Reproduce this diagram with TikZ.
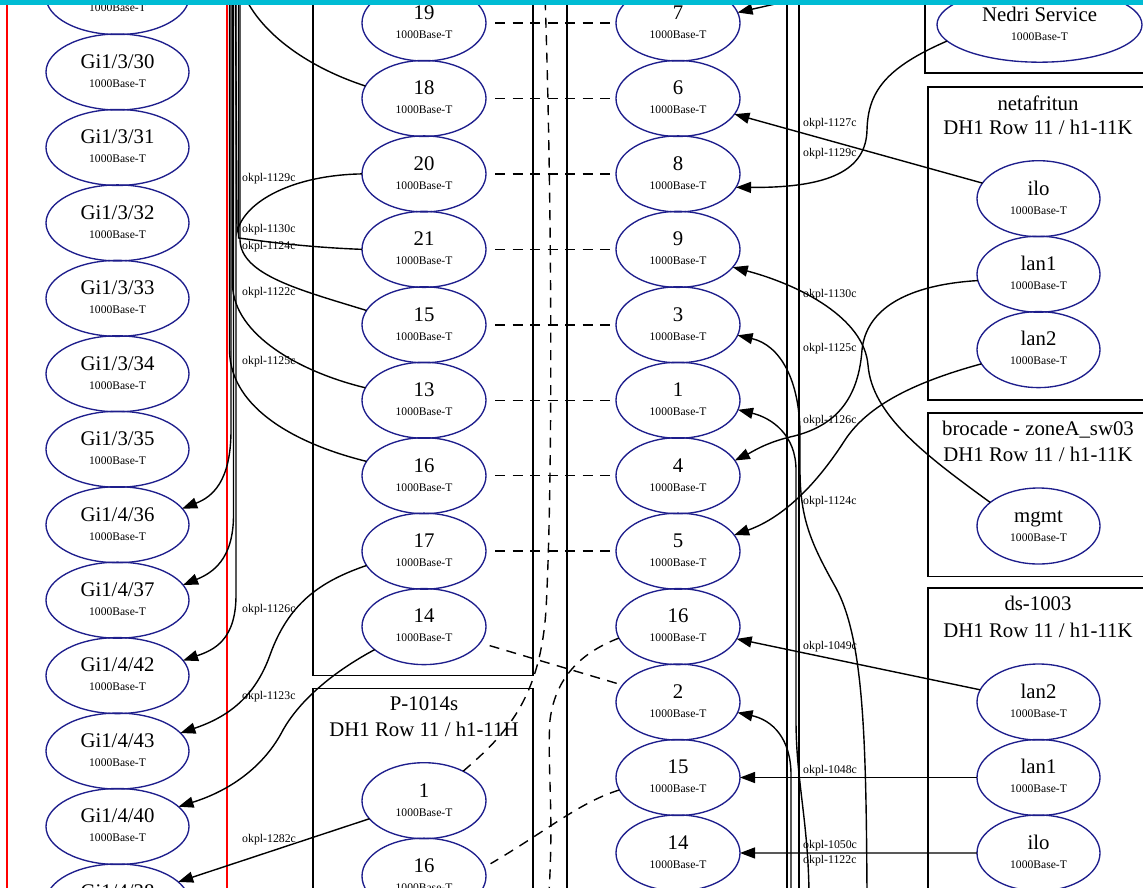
\documentclass[tikz,border=0pt]{standalone}
\usepackage{fontspec}
\setmainfont{Liberation Serif}
\usetikzlibrary{shapes.geometric,arrows.meta}
\definecolor{portc}{RGB}{30,30,140}
\definecolor{barc}{RGB}{0,188,212}
\newcommand\ttlfont{\fontsize{20.8}{24}\selectfont}
\newcommand\subfont{\fontsize{11.6}{13}\selectfont}
\newcommand\lblfont{\fontsize{11.8}{13}\selectfont}
\tikzset{
 ell/.style={ellipse, draw=portc, line width=1.35pt, inner sep=0pt, outer sep=0pt, minimum height=76pt},
 ttl/.style={font=\ttlfont, inner sep=0pt, anchor=base},
 subt/.style={font=\subfont, inner sep=0pt, anchor=base},
 lbl/.style={font=\lblfont, inner sep=0pt, anchor=west},
 arrln/.style={draw=black, line width=1.4pt, -{Triangle[length=15pt,width=11pt]}},
 ln/.style={draw=black, line width=1.4pt},
 dln/.style={draw=black, line width=1.4pt, dash pattern=on 10pt off 7.5pt},
 clus/.style={draw=black, line width=1.35pt},
 rclus/.style={draw=red, line width=1.35pt},
}
\newcommand\pnode[5]{%
 \node[ell, minimum width=#4pt] (#1) at (#2,#3) {};
 \node[ttl] (#1-t) at ([yshift=3.7pt]#1.center) {#5};
 \node[subt] (#1-s) at ([yshift=-15.3pt]#1.center) {1000Base-T};
}
\begin{document}
\begin{tikzpicture}[x=1pt,y=-1pt]
\useasboundingbox (0,0) rectangle (1143,887);
\clip (0,0) rectangle (1143,887);
% clusters
\draw[rclus] (7,-20) rectangle (227,910);
\draw[clus] (313,-20) rectangle (533,675.5);
\draw[clus] (313,688.3) rectangle (533,910);
\draw[clus] (567,-20) rectangle (787,910);
\draw[clus] (799,-20) -- (799,910);
\draw[clus] (925,-20) rectangle (1160,73);
\draw[clus] (928,87) rectangle (1160,400);
\draw[clus] (928,413) rectangle (1160,576.5);
\draw[clus] (928,588) rectangle (1160,910);
% cluster titles
\node[ttl] (c1a) at (424,710) {P-1014s};
\node[ttl] (c1b) at (424,736) {DH1 Row 11 / h1-11H};
\node[ttl] (c2a) at (1038,110) {netafritun};
\node[ttl] (c2b) at (1038,134) {DH1 Row 11 / h1-11K};
\node[ttl] (c3a) at (1038,435) {brocade - zoneA\_sw03};
\node[ttl] (c3b) at (1038,461) {DH1 Row 11 / h1-11K};
\node[ttl] (c4a) at (1038,610) {ds-1003};
\node[ttl] (c4b) at (1038,637) {DH1 Row 11 / h1-11K};
% left column
\node[ell, minimum width=143pt] (g29) at (117.5,-3.45) {};
\node[subt] (g29-s) at ([yshift=-15.3pt]g29.center) {1000Base-T};
\pnode{g30}{117.5}{72}{143}{Gi1/3/30}
\pnode{g31}{117.5}{147.45}{143}{Gi1/3/31}
\pnode{g32}{117.5}{222.9}{143}{Gi1/3/32}
\pnode{g33}{117.5}{298.35}{143}{Gi1/3/33}
\pnode{g34}{117.5}{373.8}{143}{Gi1/3/34}
\pnode{g35}{117.5}{449.25}{143}{Gi1/3/35}
\pnode{g36}{117.5}{524.7}{143}{Gi1/4/36}
\pnode{g37}{117.5}{600.15}{143}{Gi1/4/37}
\pnode{g42}{117.5}{675.6}{143}{Gi1/4/42}
\pnode{g43}{117.5}{751.05}{143}{Gi1/4/43}
\pnode{g40}{117.5}{826.5}{143}{Gi1/4/40}
\node[ell, minimum width=143pt] (g38) at (117.5,901.95) {};
\node[ttl] (g38-t) at ([yshift=3.7pt]g38.center) {Gi1/4/38};
% middle column
\pnode{m19}{424}{23}{124}{19}
\pnode{m18}{424}{98.45}{124}{18}
\pnode{m20}{424}{173.9}{124}{20}
\pnode{m21}{424}{249.35}{124}{21}
\pnode{m15}{424}{324.8}{124}{15}
\pnode{m13}{424}{400.25}{124}{13}
\pnode{m16}{424}{475.7}{124}{16}
\pnode{m17}{424}{551.15}{124}{17}
\pnode{m14}{424}{626.6}{124}{14}
\pnode{p1}{424}{800.7}{124}{1}
\pnode{p16}{424}{876.15}{124}{16}
% right column
\pnode{r7}{678}{23}{124}{7}
\pnode{r6}{678}{98.45}{124}{6}
\pnode{r8}{678}{173.9}{124}{8}
\pnode{r9}{678}{249.35}{124}{9}
\pnode{r3}{678}{324.8}{124}{3}
\pnode{r1}{678}{400.25}{124}{1}
\pnode{r4}{678}{475.7}{124}{4}
\pnode{r5}{678}{551.15}{124}{5}
\pnode{r16}{678}{626.6}{124}{16}
\pnode{r2}{678}{702.05}{124}{2}
\pnode{r15}{678}{777.5}{124}{15}
\pnode{r14}{678}{852.95}{124}{14}
% right clusters
\node[ell, minimum width=205pt, minimum height=75pt] (nedri) at (1039.5,24.7) {};
\node[ttl] (nedri-t) at ([yshift=3.7pt]nedri.center) {Nedri Service};
\node[subt] (nedri-s) at ([yshift=-15.3pt]nedri.center) {1000Base-T};
\pnode{nilo}{1038.5}{198.7}{123}{ilo}
\pnode{nlan1}{1038.5}{274.2}{123}{lan1}
\pnode{nlan2}{1038.5}{349.6}{123}{lan2}
\pnode{mgmt}{1038.5}{526}{123}{mgmt}
\pnode{dlan2}{1038.5}{702}{123}{lan2}
\pnode{dlan1}{1038.5}{777.5}{123}{lan1}
\pnode{dilo}{1038.5}{853}{123}{ilo}
% free ends
\coordinate (ta) at (231,-5);
\coordinate (tb) at (233.5,-5);
\coordinate (tc) at (236,-5);
\coordinate (u20) at (235.5,-5);
\coordinate (u21) at (238.5,-5);
\coordinate (u15) at (240,-5);
\coordinate (u13) at (232.5,-5);
\coordinate (u16) at (229.5,-5);
\coordinate (u18) at (244,-5);
\coordinate (t7) at (806,-3);
\coordinate (b1) at (809,892);
\coordinate (b2) at (791,892);
\coordinate (b3) at (867,892);
\coordinate (d1) at (545,-5);
\coordinate (d2) at (549,892);
% left bundle
\draw[arrln] (ta) -- (231,430) .. controls (231,482) and (212,497) .. (g36.14);
\draw[arrln] (tb) -- (233.5,515) .. controls (233.5,560) and (212,573) .. (g37.13);
\draw[arrln] (tc) -- (236,595) .. controls (236,640) and (214,650) .. (g42.13);
\draw[ln] (m20.west) .. controls (295,175) and (245,200) .. (237,232) -- (u20);
\draw[ln] (m21.west) .. controls (300,247) and (255,240) .. (238.5,238) -- (u21);
\draw[ln] (m15.166) .. controls (300,290) and (241,275) .. (240,240) -- (u15);
\draw[ln] (m13.168) .. controls (300,372) and (234,335) .. (232.5,285) -- (u13);
\draw[ln] (m16.166) .. controls (300,445) and (230,410) .. (229.5,350) -- (u16);
\draw[ln] (m18.168) .. controls (310,68) and (262,35) .. (u18);
\draw[arrln] (m17.194) .. controls (318,582) and (288,605) .. (270,655) .. controls (255,697) and (228,717) .. (g43.16);
\draw[arrln] (m14.205) .. controls (333,672) and (300,700) .. (283,730) .. controls (265,765) and (232,790) .. (g40.18);
\draw[arrln] (p1) -- (g38);
% right edges
\draw[arrln] (t7) -- (r7.10);
\draw[arrln] (nilo) -- (r6);
\draw[arrln] (nedri.190) .. controls (885,68) and (868,92) .. (867,130) .. controls (866,170) and (830,188) .. (r8.-13);
\draw[arrln] (mgmt.154) .. controls (925,455) and (872,415) .. (868,365) .. controls (864,318) and (800,285) .. (r9.-18);
\draw[arrln] (nlan1.186) .. controls (905,285) and (866,310) .. (862,350) .. controls (858,405) and (830,428) .. (790,437) .. controls (765,443) and (752,452) .. (r4.15);
\draw[arrln] (nlan2.194) .. controls (915,382) and (868,405) .. (845,440) .. controls (818,482) and (785,517) .. (r5.16);
\draw[arrln] (b3) .. controls (866,740) and (864,640) .. (836,588) .. controls (812,545) and (800,520) .. (800,470) -- (800,435) .. controls (800,380) and (780,345) .. (r3.-10);
\draw[arrln] (b1) .. controls (808,820) and (796,780) .. (796,720) -- (796,470) .. controls (796,435) and (772,418) .. (r1.-9);
\draw[arrln] (b2) -- (791,775) .. controls (791,738) and (772,720) .. (r2.-10);
\draw[arrln] (dlan2) -- (r16);
\draw[arrln] (dlan1) -- (r15);
\draw[arrln] (dilo) -- (r14);
% dashed links
\draw[dln] ([xshift=9pt]m19.east) -- (r7.west);
\draw[dln] ([xshift=9pt]m18.east) -- (r6.west);
\draw[dln] ([xshift=9pt]m20.east) -- (r8.west);
\draw[dln] ([xshift=9pt]m21.east) -- (r9.west);
\draw[dln] ([xshift=9pt]m15.east) -- (r3.west);
\draw[dln] ([xshift=9pt]m13.east) -- (r1.west);
\draw[dln] ([xshift=9pt]m16.east) -- (r4.west);
\draw[dln] ([xshift=9pt]m17.east) -- (r5.west);
\draw[dln] ([shift={(9.5pt,-2.9pt)}]m14.-16) -- (r2.163);
\draw[dln] (p1.37) .. controls (505,735) and (540,700) .. (546,610) .. controls (553,480) and (552,200) .. (d1);
\draw[dln] (r16.191) .. controls (588,650) and (556,672) .. (550,720) .. controls (547,765) and (554,810) .. (d2);
\draw[dln] (r15.192) .. controls (580,802) and (548,830) .. ([xshift=8pt]p16.12);
% edge labels
\node[lbl] (l1) at (242,179) {okpl-1129c};
\node[lbl] (l2) at (242,229.5) {okpl-1130c};
\node[lbl] (l3) at (242,246.5) {okpl-1124c};
\node[lbl] (l4) at (242,293) {okpl-1122c};
\node[lbl] (l5) at (242,361.5) {okpl-1125c};
\node[lbl] (l6) at (242,610) {okpl-1126c};
\node[lbl] (l7) at (242,697) {okpl-1123c};
\node[lbl] (l8) at (242,840) {okpl-1282c};
\node[lbl] (l9) at (803,123.5) {okpl-1127c};
\node[lbl] (l10) at (803,153.5) {okpl-1129c};
\node[lbl] (l11) at (803,295) {okpl-1130c};
\node[lbl] (l12) at (803,348.5) {okpl-1125c};
\node[lbl] (l13) at (803,420.5) {okpl-1126c};
\node[lbl] (l14) at (803,502) {okpl-1124c};
\node[lbl] (l15) at (803,646.5) {okpl-1049c};
\node[lbl] (l16) at (803,770.5) {okpl-1048c};
\node[lbl] (l17) at (803,845.5) {okpl-1050c};
\node[lbl] (l18) at (803,860.5) {okpl-1122c};
% top bar
\fill[barc] (0,0) rectangle (1143,4.5);
\end{tikzpicture}
\end{document}
